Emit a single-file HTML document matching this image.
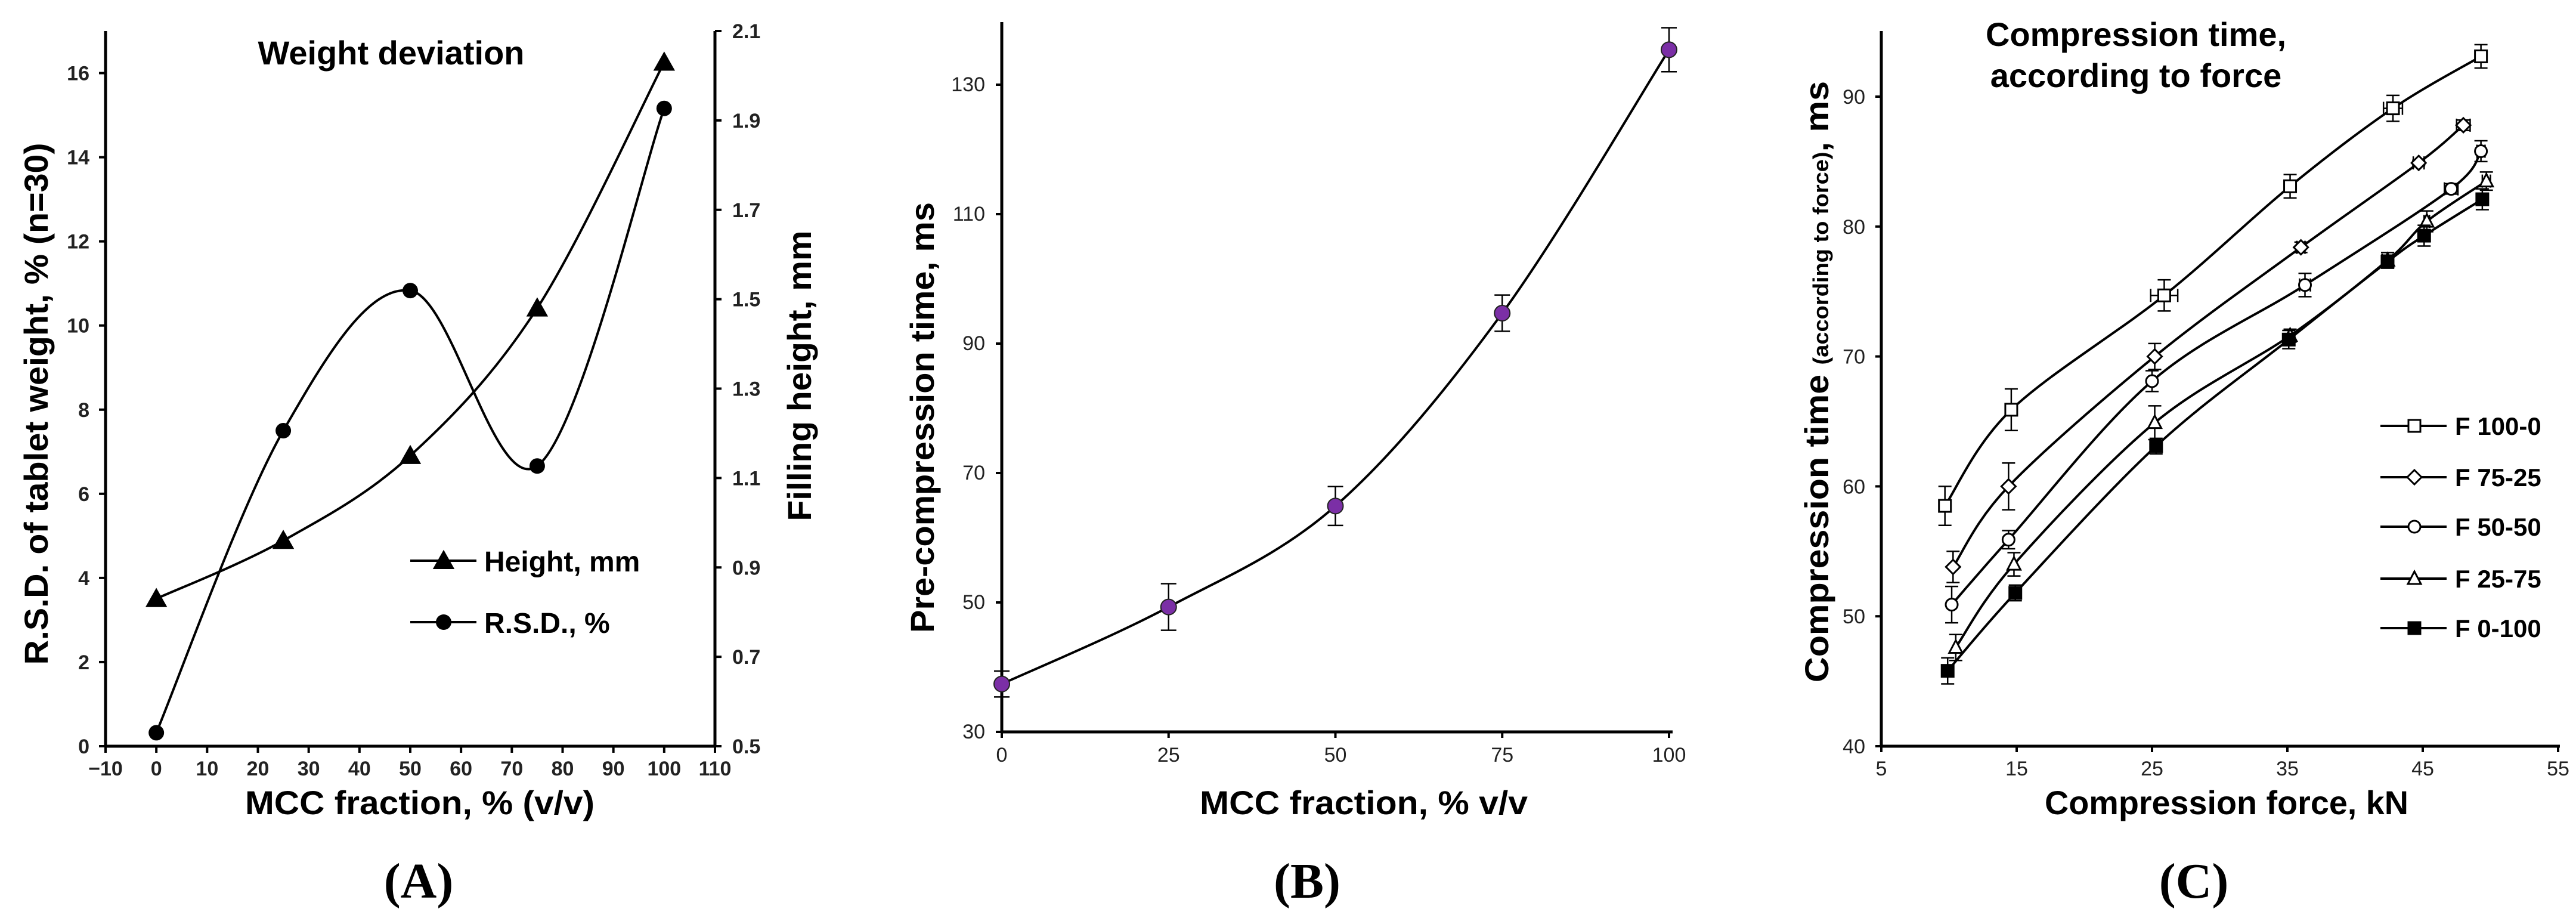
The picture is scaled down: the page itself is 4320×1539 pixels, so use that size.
<!DOCTYPE html>
<html><head><meta charset="utf-8">
<style>
html,body{margin:0;padding:0;background:#fff;}
svg{display:block;}
text{font-family:"Liberation Sans",Arial,sans-serif;fill:#000;}
.tk{font-size:34px;fill:#222;}
.ttl{font-size:56px;font-weight:bold;}
.lab{font-family:"Liberation Serif",serif;font-size:84px;font-weight:bold;}
</style></head>
<body>
<svg id="fig" width="4320" height="1539" viewBox="0 0 4320 1539" xmlns="http://www.w3.org/2000/svg">
<g id="pa"></g>
<g id="pb"></g>
<g id="pc"></g>
</svg>
<script>
// ---------- Panel A data ----------
const aX = [0, 25, 50, 75, 100];
const aHeight = [0.83, 0.96, 1.15, 1.48, 2.03];
const aRSD = [0.32, 7.5, 10.83, 6.66, 15.16];
const aXTicks = [-10,0,10,20,30,40,50,60,70,80,90,100,110];
const aYTicks = [0,2,4,6,8,10,12,14,16];
const aY2Ticks = [0.5,0.7,0.9,1.1,1.3,1.5,1.7,1.9,2.1];
// ---------- Panel B data ----------
const bX = [0, 25, 50, 75, 100];
const bY = [37.4, 49.3, 64.9, 94.7, 135.4];
const bErr = [2.0, 3.6, 3.0, 2.8, 3.4];
const bXTicks = [0,25,50,75,100];
const bYTicks = [30,50,70,90,110,130];
// ---------- Panel C data ----------
const cNames = ["F 100-0","F 75-25","F 50-50","F 25-75","F 0-100"];
const cMarkers = ["square","diamond","circle","triangle","filled"];
const c1X = [9.7, 14.6, 25.9, 35.2, 42.8, 49.3];
const c1Y = [58.5, 65.9, 74.7, 83.1, 89.1, 93.1];
const c1E = [1.5, 1.6, 1.2, 0.9, 1.0, 0.9];
const c1XE = [0, 0, 1.0, 0, 0.7, 0.4];
const c2X = [10.3, 14.4, 25.2, 36.0, 44.7, 48.0];
const c2Y = [53.8, 60.0, 70.0, 78.4, 84.9, 87.8];
const c2E = [1.2, 1.8, 1.0, 0.4, 0.2, 0.4];
const c2XE = [0, 0, 0, 0.3, 0.4, 0.5];
const c3X = [10.2, 14.4, 25.0, 36.3, 47.1, 49.3];
const c3Y = [50.9, 55.9, 68.1, 75.5, 82.9, 85.8];
const c3E = [1.4, 0.7, 0.8, 0.9, 0.4, 0.8];
const c3XE = [0, 0, 0, 0.4, 0.5, 0.3];
const c4X = [10.5, 14.8, 25.2, 35.2, 42.4, 45.3, 49.7];
const c4Y = [47.6, 54.0, 64.9, 71.6, 77.4, 80.4, 83.5];
const c4E = [1.0, 0.9, 1.3, 0.5, 0.6, 0.8, 0.7];
const c4XE = [0, 0, 0, 0, 0.4, 0.2, 0.3];
const c5X = [9.9, 14.9, 25.3, 35.1, 42.4, 45.1, 49.4];
const c5Y = [45.8, 51.8, 63.1, 71.3, 77.3, 79.3, 82.1];
const c5E = [1.0, 0.6, 0.6, 0.7, 0.5, 0.8, 0.8];
const c5XE = [0, 0, 0, 0, 0.4, 0.2, 0.2];
const cXTicks = [5,15,25,35,45,55];
const cYTicks = [40,50,60,70,80,90];

const NS="http://www.w3.org/2000/svg";
function mk(parent, tag, attrs, txt){
  const e=document.createElementNS(NS,tag);
  for(const k in attrs) e.setAttribute(k,attrs[k]);
  if(txt!==undefined) e.textContent=txt;
  parent.appendChild(e); return e;
}
function lin(d0,d1,r0,r1){return v=>r0+(v-d0)*(r1-r0)/(d1-d0);}
function smooth(pts){
  let d="M"+pts[0][0]+","+pts[0][1];
  for(let i=0;i<pts.length-1;i++){
    const p0=pts[i-1]||pts[i],p1=pts[i],p2=pts[i+1],p3=pts[i+2]||p2;
    const t=6;
    const c1=[p1[0]+(p2[0]-p0[0])/t,p1[1]+(p2[1]-p0[1])/t];
    const c2=[p2[0]-(p3[0]-p1[0])/t,p2[1]-(p3[1]-p1[1])/t];
    d+=" C"+c1[0]+","+c1[1]+" "+c2[0]+","+c2[1]+" "+p2[0]+","+p2[1];
  }
  return d;
}
function marker(g,type,x,y,s){
  let e;
  if(type==="square"||type==="filled"){
    e=mk(g,"rect",{x:x-s/2,y:y-s/2,width:s,height:s,fill:type==="filled"?"#000":"#fff",stroke:"#000","stroke-width":3});
  }else if(type==="diamond"){
    e=mk(g,"polygon",{points:`${x},${y-s*0.6} ${x+s*0.6},${y} ${x},${y+s*0.6} ${x-s*0.6},${y}`,fill:"#fff",stroke:"#000","stroke-width":3});
  }else if(type==="circle"){
    e=mk(g,"circle",{cx:x,cy:y,r:s/2,fill:"#fff",stroke:"#000","stroke-width":3});
  }else if(type==="triangle"){
    e=mk(g,"polygon",{points:`${x},${y-s*0.6} ${x+s*0.55},${y+s*0.45} ${x-s*0.55},${y+s*0.45}`,fill:"#fff",stroke:"#000","stroke-width":3});
  }else if(type==="tri-filled"){
    e=mk(g,"polygon",{points:`${x},${y-s*0.65} ${x+s*0.65},${y+s*0.5} ${x-s*0.65},${y+s*0.5}`,fill:"#000"});
  }else if(type==="dot"){
    e=mk(g,"circle",{cx:x,cy:y,r:s/2,fill:"#000"});
  }
  return e;
}

// ================= PANEL A =================
(function(){
  const g=document.getElementById("pa");
  const L=177,R=1199,B=1251,T=52;
  const X=lin(-10,110,L,R), Y=lin(0,17,B,T), Y2=lin(0.5,2.1,B,T);
  let e;
  e=mk(g,"line",{x1:L,y1:B,x2:R,y2:B,stroke:"#000","stroke-width":5});
   
  e=mk(g,"line",{x1:L,y1:T,x2:L,y2:B,stroke:"#000","stroke-width":5});
   
  e=mk(g,"line",{x1:R,y1:T,x2:R,y2:B,stroke:"#000","stroke-width":5});
   
  aXTicks.forEach(v=>{
    mk(g,"line",{x1:X(v),y1:B,x2:X(v),y2:B+11,stroke:"#000","stroke-width":4});
    e=mk(g,"text",{x:X(v),y:1300,"text-anchor":"middle",class:"tk","font-weight":"bold"},v<0?"\u2212"+(-v):String(v));
     
  });
  aYTicks.forEach(v=>{
    mk(g,"line",{x1:L-11,y1:Y(v),x2:L,y2:Y(v),stroke:"#000","stroke-width":4});
    e=mk(g,"text",{x:150,y:Y(v)+12,"text-anchor":"end",class:"tk","font-weight":"bold"},String(v));
     
  });
  aY2Ticks.forEach(v=>{
    mk(g,"line",{x1:R,y1:Y2(v),x2:R+11,y2:Y2(v),stroke:"#000","stroke-width":4});
    e=mk(g,"text",{x:1228,y:Y2(v)+12,"text-anchor":"start",class:"tk","font-weight":"bold"},v.toFixed(1));
     
  });
  // series
  const hp=aX.map((x,i)=>[X(x),Y2(aHeight[i])]);
  const rp=aX.map((x,i)=>[X(x),Y(aRSD[i])]);
  e=mk(g,"path",{d:smooth(hp),fill:"none",stroke:"#000","stroke-width":4});
   
  e=mk(g,"path",{d:smooth(rp),fill:"none",stroke:"#000","stroke-width":4});
   
  hp.forEach(p=>{e=marker(g,"tri-filled",p[0],p[1],28);
     });
  rp.forEach(p=>{e=marker(g,"dot",p[0],p[1],26);
     });
  // legend
  mk(g,"line",{x1:688,y1:940,x2:799,y2:940,stroke:"#000","stroke-width":4});
  marker(g,"tri-filled",744,940,28);
  e=mk(g,"text",{x:812,y:958,"font-size":"48","font-weight":"bold"},"Height, mm");
   
  mk(g,"line",{x1:688,y1:1043,x2:799,y2:1043,stroke:"#000","stroke-width":4});
  marker(g,"dot",744,1043,26);
  e=mk(g,"text",{x:812,y:1061,"font-size":"48","font-weight":"bold"},"R.S.D., %");
   
  // titles
  e=mk(g,"text",{x:656,y:108,"text-anchor":"middle",class:"ttl","font-size":"56"},"Weight deviation");
   
  e=mk(g,"text",{x:0,y:0,"text-anchor":"middle",class:"ttl",transform:"translate(80,677) rotate(-90)",textLength:875,lengthAdjust:"spacingAndGlyphs"},"R.S.D. of tablet weight, % (n=30)");
   
  e=mk(g,"text",{x:0,y:0,"text-anchor":"middle",class:"ttl",transform:"translate(1360,630) rotate(-90)",textLength:487,lengthAdjust:"spacingAndGlyphs"},"Filling height, mm");
   
  e=mk(g,"text",{x:704,y:1365,"text-anchor":"middle",class:"ttl",textLength:586,lengthAdjust:"spacingAndGlyphs"},"MCC fraction, % (v/v)");
   
  e=mk(g,"text",{x:702,y:1505,"text-anchor":"middle",class:"lab"},"(A)");
   
})();

// ================= PANEL B =================
(function(){
  const g=document.getElementById("pb");
  const L=1680,R=2805,B=1227,T=37;
  const X=lin(0,100,L,2799), Y=lin(30,130,B,142);
  let e;
  e=mk(g,"line",{x1:L,y1:B,x2:R,y2:B,stroke:"#000","stroke-width":5});
   
  e=mk(g,"line",{x1:L,y1:T,x2:L,y2:B,stroke:"#000","stroke-width":5});
   
  bXTicks.forEach(v=>{
    mk(g,"line",{x1:X(v),y1:B,x2:X(v),y2:B+10,stroke:"#000","stroke-width":4});
    e=mk(g,"text",{x:X(v),y:1277,"text-anchor":"middle",class:"tk","font-size":"30"},String(v));
     
  });
  bYTicks.forEach(v=>{
    mk(g,"line",{x1:L-10,y1:Y(v),x2:L,y2:Y(v),stroke:"#000","stroke-width":4});
    e=mk(g,"text",{x:1652,y:Y(v)+11,"text-anchor":"end",class:"tk","font-size":"30"},String(v));
     
  });
  const pts=bX.map((x,i)=>[X(x),Y(bY[i])]);
  e=mk(g,"path",{d:smooth(pts),fill:"none",stroke:"#000","stroke-width":4});
   
  bX.forEach((x,i)=>{
    const cx=X(x), y1=Y(bY[i]+bErr[i]), y2=Y(bY[i]-bErr[i]);
    e=mk(g,"path",{d:`M${cx},${y1}V${y2}M${cx-13},${y1}H${cx+13}M${cx-13},${y2}H${cx+13}`,stroke:"#000","stroke-width":2.5,fill:"none"});
     
    e=mk(g,"circle",{cx:cx,cy:Y(bY[i]),r:13,fill:"#7B2FA6",stroke:"#222","stroke-width":2});
     
  });
  e=mk(g,"text",{x:0,y:0,"text-anchor":"middle",class:"ttl",transform:"translate(1566,700) rotate(-90)",textLength:722,lengthAdjust:"spacingAndGlyphs"},"Pre-compression time, ms");
   
  e=mk(g,"text",{x:2287,y:1365,"text-anchor":"middle",class:"ttl",textLength:550,lengthAdjust:"spacingAndGlyphs"},"MCC fraction, % v/v");
   
  e=mk(g,"text",{x:2192,y:1505,"text-anchor":"middle",class:"lab"},"(B)");
   
})();

// ================= PANEL C =================
(function(){
  const g=document.getElementById("pc");
  const L=3155,R=4293,B=1251,T=52;
  const X=lin(5,55,L,4290), Y=lin(40,90,B,162);
  let e;
  e=mk(g,"line",{x1:L,y1:B,x2:R,y2:B,stroke:"#000","stroke-width":5});
   
  e=mk(g,"line",{x1:L,y1:T,x2:L,y2:B,stroke:"#000","stroke-width":5});
   
  cXTicks.forEach(v=>{
    mk(g,"line",{x1:X(v),y1:B,x2:X(v),y2:B+10,stroke:"#000","stroke-width":4});
    e=mk(g,"text",{x:X(v),y:1300,"text-anchor":"middle",class:"tk","font-size":"32"},String(v));
     
  });
  cYTicks.forEach(v=>{
    mk(g,"line",{x1:L-10,y1:Y(v),x2:L,y2:Y(v),stroke:"#000","stroke-width":4});
    e=mk(g,"text",{x:3128,y:Y(v)+12,"text-anchor":"end",class:"tk","font-size":"32"},String(v));
     
  });
  const series=[[c1X,c1Y,c1E,c1XE],[c2X,c2Y,c2E,c2XE],[c3X,c3Y,c3E,c3XE],[c4X,c4Y,c4E,c4XE],[c5X,c5Y,c5E,c5XE]];
  series.forEach((s,si)=>{
    const pts=s[0].map((x,i)=>[X(x),Y(s[1][i])]);
    e=mk(g,"path",{d:smooth(pts),fill:"none",stroke:"#000","stroke-width":4});
     
  });
  series.forEach((s,si)=>{
    s[0].forEach((x,i)=>{
      const cx=X(x), cy=Y(s[1][i]);
      const y1=Y(s[1][i]+s[2][i]), y2=Y(s[1][i]-s[2][i]);
      let d=`M${cx},${y1}V${y2}M${cx-11},${y1}H${cx+11}M${cx-11},${y2}H${cx+11}`;
      if(s[3][i]>0){const x1=X(x-s[3][i]),x2=X(x+s[3][i]);
        d+=`M${x1},${cy}H${x2}M${x1},${cy-11}V${cy+11}M${x2},${cy-11}V${cy+11}`;}
      e=mk(g,"path",{d:d,stroke:"#000","stroke-width":2.5,fill:"none"});
       
      e=marker(g,cMarkers[si],cx,cy,20);
       
    });
  });
  // legend
  const ly=[714,800,883,970,1053];
  cNames.forEach((n,i)=>{
    mk(g,"line",{x1:3992,y1:ly[i],x2:4103,y2:ly[i],stroke:"#000","stroke-width":4});
    marker(g,cMarkers[i],4049,ly[i],20);
    e=mk(g,"text",{x:4117,y:ly[i]+15,"font-size":"42","font-weight":"bold"},n);
     
  });
  e=mk(g,"text",{x:3582,y:77,"text-anchor":"middle",class:"ttl","font-size":"54"},"Compression time,");
   
  e=mk(g,"text",{x:3582,y:146,"text-anchor":"middle",class:"ttl","font-size":"54"},"according to force");
   
  e=mk(g,"text",{x:0,y:0,"text-anchor":"middle",class:"ttl",transform:"translate(3066,640) rotate(-90)",textLength:1008,lengthAdjust:"spacingAndGlyphs"});
   
  mk(e,"tspan",{},"Compression time ");
  mk(e,"tspan",{"font-size":"36"},"(according to force)");
  mk(e,"tspan",{},", ms");
  e=mk(g,"text",{x:3734,y:1365,"text-anchor":"middle",class:"ttl",textLength:610,lengthAdjust:"spacingAndGlyphs"},"Compression force, kN");
   
  e=mk(g,"text",{x:3679,y:1505,"text-anchor":"middle",class:"lab"},"(C)");
   
})();
</script>
</body></html>
